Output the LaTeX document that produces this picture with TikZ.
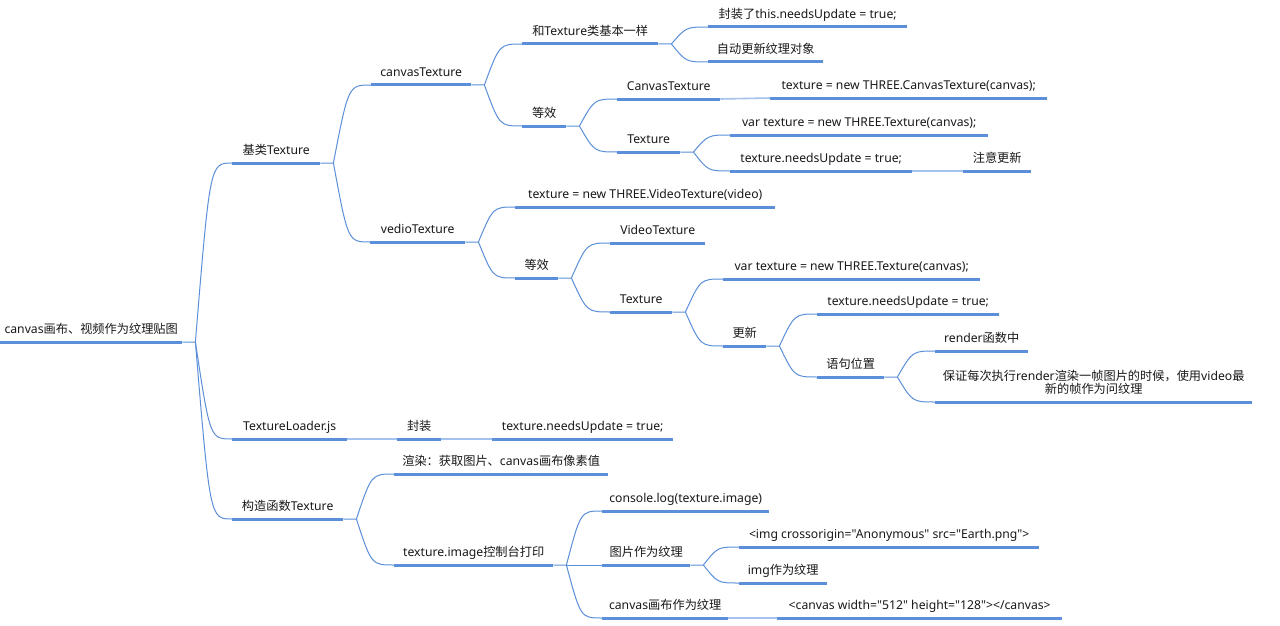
\documentclass[tikz,border=0pt]{standalone}
\usepackage{fontspec}
\setmainfont{Noto Sans}[Ligatures=TeXOff]
\newfontfamily\cjkfont{Noto Sans CJK SC}
\newcommand\zh[1]{{\cjkfont #1}}
\usetikzlibrary{calc}
\definecolor{mapblue}{HTML}{5B8FD9}
\definecolor{maplight}{HTML}{A3C2EE}

\begin{document}
\begin{tikzpicture}[x=1pt,y=-1pt,
    uline/.style={mapblue,line width=3pt},
    topic/.style={anchor=south west,inner xsep=0pt,inner ysep=8pt,text depth=0pt,
        font=\fontsize{12.2}{14.5}\selectfont,text=black!90,
        append after command={(\tikzlastnode.south west) edge[uline] (\tikzlastnode.south east)}},
    link/.style={mapblue,line width=1pt},
    straightlink/.style={maplight,line width=1.6pt},
    fork/.style={to path={.. controls ($(\tikztostart |- \tikztotarget)!0.4!(\tikztotarget)$) .. (\tikztotarget)}}]
    \fill[white] (0,0) rectangle (1280,626);
    \useasboundingbox (0,0) rectangle (1280,626);

    % Racine
    \node[topic,minimum width=182] (root) at (0,342) {canvas\zh{画布、视频作为纹理贴图}};

    % Premier niveau
    \node[topic,minimum width=88]  (base)   at (232,163) {\zh{基类}Texture};
    \node[topic,minimum width=115] (loader) at (232,439) {TextureLoader.js};
    \node[topic,minimum width=111] (ctor)   at (232,519) {\zh{构造函数}Texture};

    % canvasTexture
    \node[topic,minimum width=100] (canvasTex)   at (371,85)  {canvasTexture};
    \node[topic,minimum width=136] (same)        at (522,44)  {\zh{和}Texture\zh{类基本一样}};
    \node[topic,minimum width=199] (wrap)        at (708,27)  {\zh{封装了}this.needsUpdate = true;};
    \node[topic,minimum width=115] (auto)        at (708,62)  {\zh{自动更新纹理对象}};
    \node[topic,minimum width=44]  (equivA)      at (522,126) {\zh{等效}};
    \node[topic,minimum width=103] (canvasClass) at (617,99)  {CanvasTexture};
    \node[topic,minimum width=277] (canvasNew)   at (770,98)  {texture = new THREE.CanvasTexture(canvas);};
    \node[topic,minimum width=63]  (textureA)    at (617,152) {Texture};
    \node[topic,minimum width=258] (varA)        at (730,135) {var texture = new THREE.Texture(canvas);};
    \node[topic,minimum width=182] (flagA)       at (730,171) {texture.needsUpdate = true;};
    \node[topic,minimum width=68]  (note)        at (963,171) {\zh{注意更新}};

    % vedioTexture
    \node[topic,minimum width=95]  (videoTex)   at (370,242) {vedioTexture};
    \node[topic,minimum width=260] (videoNew)   at (515,207) {texture = new THREE.VideoTexture(video)};
    \node[topic,minimum width=43]  (equivB)     at (515,278) {\zh{等效}};
    \node[topic,minimum width=95]  (videoClass) at (610,243) {VideoTexture};
    \node[topic,minimum width=62]  (textureB)   at (610,312) {Texture};
    \node[topic,minimum width=257] (varB)       at (723,279) {var texture = new THREE.Texture(canvas);};
    \node[topic,minimum width=43]  (update)     at (723,346) {\zh{更新}};
    \node[topic,minimum width=182] (flagB)      at (817,314) {texture.needsUpdate = true;};
    \node[topic,minimum width=67]  (place)      at (817,377) {\zh{语句位置}};
    \node[topic,minimum width=93]  (inRender)   at (935,351) {render\zh{函数中}};
    \node[topic,minimum width=317] (reason)     at (935,402) {\begin{tabular}[b]{@{}c@{}}\zh{保证每次执行}render\zh{渲染一帧图片的时候，使用}video\zh{最}\\[-1pt]\zh{新的帧作为问纹理}\end{tabular}};

    % TextureLoader.js
    \node[topic,minimum width=44]  (pack)  at (397,439) {\zh{封装}};
    \node[topic,minimum width=181] (flagC) at (492,439) {texture.needsUpdate = true;};

    % Constructeur
    \node[topic,minimum width=214] (render)    at (394,474) {\zh{渲染：获取图片、}canvas\zh{画布像素值}};
    \node[topic,minimum width=159] (printImg)  at (394,565) {texture.image\zh{控制台打印}};
    \node[topic,minimum width=167] (log)       at (602,511) {console.log(texture.image)};
    \node[topic,minimum width=88]  (imgTex)    at (602,565) {\zh{图片作为纹理}};
    \node[topic,minimum width=300] (imgTag)    at (739,547) {<img crossorigin="Anonymous" src="Earth.png">};
    \node[topic,minimum width=88]  (imgAs)     at (739,583) {img\zh{作为纹理}};
    \node[topic,minimum width=126] (cvsTex)    at (602,618) {canvas\zh{画布作为纹理}};
    \node[topic,minimum width=285] (canvasTag) at (777,618) {<canvas width="512" height="128"></canvas>};

    % Points de branchement
    \foreach \n in {root,base,canvasTex,same,equivA,textureA,videoTex,equivB,textureB,update,place,ctor,printImg,imgTex}
        \coordinate (\n-b) at ([xshift=13]\n.south east);

    % Branches
    \draw[link] (root.south east) -- (root-b) to[fork] (base.south west);
    \draw[link] (root-b) to[fork] (loader.south west);
    \draw[link] (root-b) to[fork] (ctor.south west);
    \draw[link] (base.south east) -- (base-b) to[fork] (canvasTex.south west);
    \draw[link] (base-b) to[fork] (videoTex.south west);
    \draw[link] (canvasTex.south east) -- (canvasTex-b) to[fork] (same.south west);
    \draw[link] (canvasTex-b) to[fork] (equivA.south west);
    \draw[link] (same.south east) -- (same-b) to[fork] (wrap.south west);
    \draw[link] (same-b) to[fork] (auto.south west);
    \draw[link] (equivA.south east) -- (equivA-b) to[fork] (canvasClass.south west);
    \draw[link] (equivA-b) to[fork] (textureA.south west);
    \draw[link] (textureA.south east) -- (textureA-b) to[fork] (varA.south west);
    \draw[link] (textureA-b) to[fork] (flagA.south west);
    \draw[link] (videoTex.south east) -- (videoTex-b) to[fork] (videoNew.south west);
    \draw[link] (videoTex-b) to[fork] (equivB.south west);
    \draw[link] (equivB.south east) -- (equivB-b) to[fork] (videoClass.south west);
    \draw[link] (equivB-b) to[fork] (textureB.south west);
    \draw[link] (textureB.south east) -- (textureB-b) to[fork] (varB.south west);
    \draw[link] (textureB-b) to[fork] (update.south west);
    \draw[link] (update.south east) -- (update-b) to[fork] (flagB.south west);
    \draw[link] (update-b) to[fork] (place.south west);
    \draw[link] (place.south east) -- (place-b) to[fork] (inRender.south west);
    \draw[link] (place-b) to[fork] (reason.south west);
    \draw[link] (ctor.south east) -- (ctor-b) to[fork] (render.south west);
    \draw[link] (ctor-b) to[fork] (printImg.south west);
    \draw[link] (printImg.south east) -- (printImg-b) to[fork] (log.south west);
    \draw[link] (printImg-b) -- (imgTex.south west);
    \draw[link] (printImg-b) to[fork] (cvsTex.south west);
    \draw[link] (imgTex.south east) -- (imgTex-b) to[fork] (imgTag.south west);
    \draw[link] (imgTex-b) to[fork] (imgAs.south west);

    % Liens directs
    \draw[straightlink] (canvasClass.south east) -- (canvasNew.south west);
    \draw[straightlink] (flagA.south east) -- (note.south west);
    \draw[straightlink] (loader.south east) -- (pack.south west);
    \draw[straightlink] (pack.south east) -- (flagC.south west);
    \draw[straightlink] (cvsTex.south east) -- (canvasTag.south west);
\end{tikzpicture}
\end{document}
